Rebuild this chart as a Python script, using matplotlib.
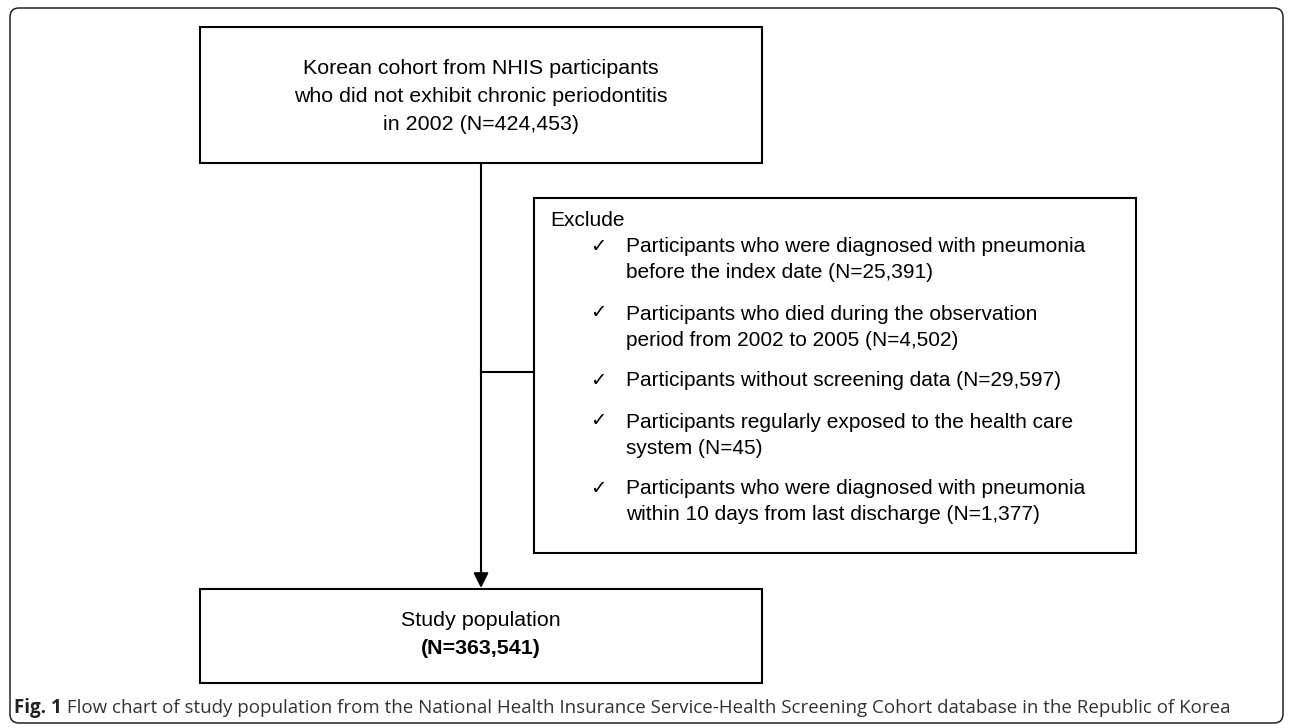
#!/usr/bin/env python3
"""
Flow chart of the study population (NHIS-HEALS cohort).
"""
import matplotlib

matplotlib.use("Agg")
import matplotlib.pyplot as plt
from matplotlib.patches import FancyBboxPatch, Rectangle

# Textos do fluxograma
top_lines = [
    "Korean cohort from NHIS participants",
    "who did not exhibit chronic periodontitis",
    "in 2002 (N=424,453)",
]
exclude_title = "Exclude"
exclude_items = [
    ["Participants who were diagnosed with pneumonia", "before the index date (N=25,391)"],
    ["Participants who died during the observation", "period from 2002 to 2005 (N=4,502)"],
    ["Participants without screening data (N=29,597)"],
    ["Participants regularly exposed to the health care", "system (N=45)"],
    ["Participants who were diagnosed with pneumonia", "within 10 days from last discharge (N=1,377)"],
]
bottom_lines = ["Study population", "(N=363,541)"]
caption_bold = "Fig. 1"
caption_text = (" Flow chart of study population from the National Health Insurance "
                "Service-Health Screening Cohort database in the Republic of Korea")

W, H = 1292, 728
FONT = ["Liberation Sans", "DejaVu Sans"]
FS_TOP = 15.4
FS_EX = 15.0
LW = 1.5

fig = plt.figure(figsize=(W / 100, H / 100), dpi=100)
ax = fig.add_axes([0, 0, 1, 1])
ax.set_xlim(0, W)
ax.set_ylim(H, 0)
ax.axis("off")

# moldura externa arredondada
ax.add_patch(FancyBboxPatch((10, 8), 1273, 715, boxstyle="round,pad=0,rounding_size=9",
                            fill=False, lw=1.1, ec="#222222"))


def box(x0, y0, x1, y1):
    ax.add_patch(Rectangle((x0, y0), x1 - x0, y1 - y0, fill=False, lw=LW, ec="black"))


# caixa superior
box(200, 27, 762, 163)
for i, line in enumerate(top_lines):
    ax.text(481, 68 + i * 28.5, line, ha="center", va="center", fontsize=FS_TOP, family=FONT)

# caixa de exclusao
ex_x0, ex_y0, ex_x1, ex_y1 = 534, 198, 1136, 553
box(ex_x0, ex_y0, ex_x1, ex_y1)
ax.text(550, 221, exclude_title, ha="left", va="center", fontsize=FS_EX, family=FONT)
y = 247
for item in exclude_items:
    ax.text(590, y, "\u2713", ha="left", va="center", fontsize=FS_EX - 1, family=FONT)
    for j, line in enumerate(item):
        ax.text(626, y + j * 26, line, ha="left", va="center", fontsize=FS_EX, family=FONT)
    y += 26 * (len(item) - 1) + 41

# linhas de conexao
ax.plot([481, 481], [163, 575], color="black", lw=LW, solid_capstyle="butt")
ax.annotate("", xy=(481, 588), xytext=(481, 570),
            arrowprops=dict(arrowstyle="-|>,head_length=0.9,head_width=0.45",
                            color="black", lw=LW, shrinkA=0, shrinkB=0))
ax.plot([481, ex_x0], [372, 372], color="black", lw=LW)

# caixa inferior
box(200, 589, 762, 683)
ax.text(481, 621, bottom_lines[0], ha="center", va="center", fontsize=FS_TOP, family=FONT)
ax.text(481, 648, bottom_lines[1], ha="center", va="center", fontsize=FS_TOP,
        family=FONT, fontweight="bold")

# legenda da figura
cap = ax.text(14, 708, caption_bold, ha="left", va="center", fontsize=13.5,
              family="Open Sans", fontweight="bold", color="#222222")
fig.canvas.draw()
bb = cap.get_window_extent()
ax.text(bb.x1, 708, caption_text, ha="left", va="center", fontsize=13.5,
        family="Open Sans", color="#333333")

fig.savefig("out.png", dpi=100)
